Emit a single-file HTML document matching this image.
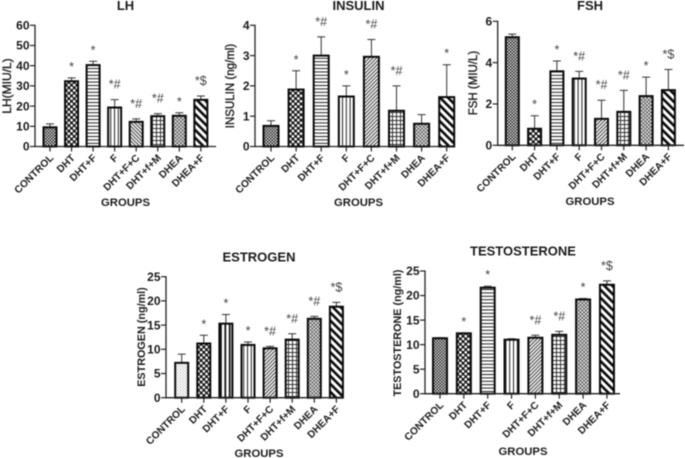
<!DOCTYPE html>
<html lang="en">
<head>
<meta charset="utf-8">
<title>Hormone levels by group</title>
<style>
  html, body { margin: 0; padding: 0; background: #fff; }
  body { width: 685px; height: 458px; overflow: hidden; }
  svg { display: block; filter: blur(0.45px); }
  text { font-family: "Liberation Sans", Arial, sans-serif; fill: #1c1c1c; }
</style>
</head>
<body>
<svg id="figure" xmlns="http://www.w3.org/2000/svg" width="685" height="458" viewBox="0 0 685 458">
  <defs>
    <pattern id="p-dense" patternUnits="userSpaceOnUse" width="3" height="3">
      <rect width="3" height="3" fill="#ddd"/>
      <rect width="1.5" height="1.5" fill="#222"/>
      <rect x="1.5" y="1.5" width="1.5" height="1.5" fill="#222"/>
    </pattern>
    <pattern id="p-light" patternUnits="userSpaceOnUse" width="3" height="3">
      <rect width="3" height="3" fill="#fff"/>
      <rect width="1" height="1" fill="#999"/>
      <rect x="1.5" y="1.5" width="1" height="1" fill="#aaa"/>
    </pattern>
    <pattern id="p-checker" patternUnits="userSpaceOnUse" width="5.4" height="5.4">
      <rect width="5.4" height="5.4" fill="#111"/>
      <circle cx="1.35" cy="1.35" r="1.4" fill="#fff"/>
      <circle cx="4.05" cy="4.05" r="1.4" fill="#fff"/>
    </pattern>
    <pattern id="p-hlines" patternUnits="userSpaceOnUse" width="4" height="3.4">
      <rect width="4" height="3.4" fill="#fff"/>
      <rect width="4" height="1" fill="#222"/>
    </pattern>
    <pattern id="p-vlines" patternUnits="userSpaceOnUse" width="3.8" height="4">
      <rect width="3.8" height="4" fill="#fff"/>
      <rect width="1" height="4" fill="#222"/>
    </pattern>
    <pattern id="p-vthick" patternUnits="userSpaceOnUse" width="4.4" height="4">
      <rect width="4.4" height="4" fill="#fff"/>
      <rect width="1.8" height="4" fill="#111"/>
    </pattern>
    <pattern id="p-diag" patternUnits="userSpaceOnUse" width="2.6" height="2.6" patternTransform="rotate(45)">
      <rect width="2.6" height="2.6" fill="#fff"/>
      <rect width="1.1" height="2.6" fill="#444"/>
    </pattern>
    <pattern id="p-diagback" patternUnits="userSpaceOnUse" width="2.6" height="2.6" patternTransform="rotate(-45)">
      <rect width="2.6" height="2.6" fill="#fff"/>
      <rect width="1.1" height="2.6" fill="#444"/>
    </pattern>
    <pattern id="p-grid" patternUnits="userSpaceOnUse" width="4" height="4">
      <rect width="4" height="4" fill="#fff"/>
      <rect width="1" height="4" fill="#333"/>
      <rect width="4" height="1" fill="#333"/>
    </pattern>
    <pattern id="p-diamonds" patternUnits="userSpaceOnUse" width="3.6" height="3.6">
      <rect width="3.6" height="3.6" fill="#555"/>
      <circle cx="0.9" cy="0.9" r="1" fill="#f4f4f4"/>
      <circle cx="2.7" cy="2.7" r="1" fill="#f4f4f4"/>
    </pattern>
    <pattern id="p-bigdiag" patternUnits="userSpaceOnUse" width="5.6" height="5.6" patternTransform="rotate(-45)">
      <rect width="5.6" height="5.6" fill="#fff"/>
      <rect width="2.6" height="5.6" fill="#0a0a0a"/>
    </pattern>
  </defs>
</svg>
<script>
// ---- Data ----
const categories = ["CONTROL", "DHT", "DHT+F", "F", "DHT+F+C", "DHT+f+M", "DHEA", "DHEA+F"];

const lhValues = [9.5, 32.3, 40.3, 19.3, 12.2, 15, 15.2, 23.1];
const lhErrors = [1.7, 1.7, 1.9, 3.9, 1.5, 1.3, 1.5, 1.9];
const lhNotes = ["", "*", "*", "*#", "*#", "*#", "*", "*$"];
const lhTicks = [0, 10, 20, 30, 40, 50, 60];

const insulinValues = [0.68, 1.88, 3.0, 1.65, 2.96, 1.18, 0.75, 1.63];
const insulinErrors = [0.17, 0.62, 0.62, 0.35, 0.57, 0.82, 0.3, 1.07];
const insulinNotes = ["", "*", "*#", "*", "*#", "*#", "", "*"];
const insulinTicks = [0, 1, 2, 3, 4];

const fshValues = [5.23, 0.8, 3.58, 3.23, 1.28, 1.62, 2.38, 2.67];
const fshErrors = [0.15, 0.63, 0.5, 0.35, 0.9, 1.04, 0.92, 1.0];
const fshNotes = ["", "*", "*", "*#", "*#", "*#", "*", "*$"];
const fshTicks = [0, 2, 4, 6];

const estrogenValues = [7.2, 11.2, 15.3, 10.9, 10.2, 12, 16.3, 18.8];
const estrogenErrors = [1.8, 1.7, 1.9, 0.6, 0.4, 1.2, 0.5, 0.9];
const estrogenNotes = ["", "*", "*", "*", "*#", "*#", "*#", "*$"];
const estrogenTicks = [0, 5, 10, 15, 20, 25];

const testosteroneValues = [11.3, 12.3, 21.6, 11, 11.4, 12, 19.2, 22.2];
const testosteroneErrors = [0.1, 0.1, 0.3, 0.2, 0.5, 0.7, 0.2, 0.8];
const testosteroneNotes = ["", "*", "*", "", "*#", "*#", "*", "*$"];
const testosteroneTicks = [0, 5, 10, 15, 20, 25];

// ---- Drawing ----
const NS = "http://www.w3.org/2000/svg";
const figure = document.getElementById("figure");

function make(parent, tag, attrs, content) {
  const el = document.createElementNS(NS, tag);
  for (const k in attrs) el.setAttribute(k, attrs[k]);
  if (content !== undefined) el.textContent = content;
  parent.appendChild(el);
  return el;
}

function drawChart(c) {
  const group = make(figure, "g", {});
  
  

  const maxTick = c.ticks[c.ticks.length - 1];
  const yScale = v => c.y0 - (v / maxTick) * (c.y0 - c.yTop);
  const xScale = i => c.xFirst + i * c.xStep;

  // bars and error bars
  c.values.forEach((v, i) => {
    const x = xScale(i);
    const top = yScale(v + c.errors[i]);
    const err = make(group, "path", {
      d: "M" + x + " " + yScale(v) + "V" + top + "M" + (x - c.capHalf) + " " + top + "H" + (x + c.capHalf),
      stroke: "#333", "stroke-width": 1, fill: "none"
    });
    
    

    const bar = make(group, "rect", {
      x: x - c.barW / 2, y: yScale(v), width: c.barW, height: Math.max(0, c.y0 - yScale(v)),
      fill: "url(#p-" + c.patterns[i] + ")", stroke: "#0a0a0a", "stroke-width": 2
    });
    
    

    if (c.notes[i]) {
      const note = make(group, "text", {
        x: x, y: top - (c.notes[i].length > 1 ? 11 : 7), "text-anchor": "middle",
        "font-size": 12.5, style: "fill:#444"
      }, c.notes[i]);
      
      
    }

    const tick = make(group, "line", {
      x1: x, x2: x, y1: c.y0, y2: c.y0 + 5, stroke: "#222", "stroke-width": 1.2
    });
    
    

    const ax = x + 4, ay = c.y0 + 12;
    const label = make(group, "text", {
      x: ax, y: ay, "text-anchor": "end", "font-size": 10.2, "font-weight": "bold",
      transform: "rotate(-45 " + ax + " " + ay + ")"
    }, categories[i]);
    
    
  });

  // axes
  const yAxis = make(group, "line", {
    x1: c.xAxis, x2: c.xAxis, y1: c.yTop - 0.6, y2: c.y0 + 0.6, stroke: "#222", "stroke-width": 1.3
  });
  
  

  const xAxis = make(group, "line", {
    x1: c.xAxis, x2: c.xEnd, y1: c.y0, y2: c.y0, stroke: "#222", "stroke-width": 1.3
  });
  
  

  c.ticks.forEach(t => {
    const y = yScale(t);
    const tick = make(group, "line", {
      x1: c.xAxis - 5, x2: c.xAxis, y1: y, y2: y, stroke: "#222", "stroke-width": 1.2
    });
    
    

    const label = make(group, "text", {
      x: c.xAxis - 5.5, y: y + 4.2, "text-anchor": "end", "font-size": 12, "font-weight": "bold"
    }, t);
    
    
  });

  // titles
  const title = make(group, "text", {
    x: c.titleX, y: c.titleY, "text-anchor": "middle", "font-size": 13, "font-weight": "bold"
  }, c.title);
  
  

  const xTitle = make(group, "text", {
    x: c.titleX, y: c.groupsY, "text-anchor": "middle", "font-size": 11.3, "font-weight": "bold"
  }, "GROUPS");
  
  

  const yTitle = make(group, "text", {
    x: c.yTitleX, y: c.yTitleY, "text-anchor": "middle", "font-size": c.yTitleSize,
    "font-weight": c.yTitleWeight, stroke: "#1c1c1c", "stroke-width": c.yTitleWeight === "normal" ? 0.35 : 0,
    transform: "rotate(-90 " + c.yTitleX + " " + c.yTitleY + ")"
  }, c.yTitle);
  
  
}

const fillsLH = ["dense", "checker", "hlines", "vlines", "diagback", "grid", "diamonds", "bigdiag"];
const fillsStd = ["dense", "checker", "hlines", "vlines", "diag", "grid", "diamonds", "bigdiag"];
const fillsEst = ["light", "checker", "vthick", "vlines", "diag", "grid", "diamonds", "bigdiag"];

drawChart({
  key: "lh", title: "LH", yTitle: "LH(MIU/L)", values: lhValues, errors: lhErrors, notes: lhNotes, ticks: lhTicks,
  patterns: fillsLH, xAxis: 35, xEnd: 216, y0: 146.5, yTop: 25.3, xFirst: 50, xStep: 21.55, barW: 13, capHalf: 4,
  titleX: 125.5, titleY: 10, groupsY: 206, yTitleX: 11, yTitleY: 86, yTitleSize: 12, yTitleWeight: "normal"
});
drawChart({
  key: "insulin", title: "INSULIN", yTitle: "INSULIN (ng/ml)", values: insulinValues, errors: insulinErrors, notes: insulinNotes, ticks: insulinTicks,
  patterns: fillsStd, xAxis: 255, xEnd: 455, y0: 146.5, yTop: 25.3, xFirst: 271, xStep: 25.1, barW: 15, capHalf: 4,
  titleX: 358.5, titleY: 10, groupsY: 206, yTitleX: 234, yTitleY: 86, yTitleSize: 11.5, yTitleWeight: "normal"
});
drawChart({
  key: "fsh", title: "FSH", yTitle: "FSH (MIU/L)", values: fshValues, errors: fshErrors, notes: fshNotes, ticks: fshTicks,
  patterns: fillsStd, xAxis: 497.7, xEnd: 684, y0: 145.3, yTop: 21.3, xFirst: 512.3, xStep: 22.3, barW: 13, capHalf: 4,
  titleX: 590, titleY: 10, groupsY: 205, yTitleX: 477, yTitleY: 83, yTitleSize: 11.5, yTitleWeight: "normal"
});
drawChart({
  key: "estrogen", title: "ESTROGEN", yTitle: "ESTROGEN (ng/ml)", values: estrogenValues, errors: estrogenErrors, notes: estrogenNotes, ticks: estrogenTicks,
  patterns: fillsEst, xAxis: 166, xEnd: 344, y0: 397.7, yTop: 276.7, xFirst: 181.7, xStep: 22.1, barW: 13, capHalf: 4,
  titleX: 259, titleY: 261.5, groupsY: 457, yTitleX: 145, yTitleY: 337, yTitleSize: 10.8, yTitleWeight: "bold"
});
drawChart({
  key: "testosterone", title: "TESTOSTERONE", yTitle: "TESTOSTERONE (ng/ml)", values: testosteroneValues, errors: testosteroneErrors, notes: testosteroneNotes, ticks: testosteroneTicks,
  patterns: fillsStd, xAxis: 425, xEnd: 620, y0: 393.7, yTop: 271, xFirst: 440, xStep: 23.85, barW: 14, capHalf: 4,
  titleX: 523, titleY: 255.5, groupsY: 455, yTitleX: 401, yTitleY: 333, yTitleSize: 10.8, yTitleWeight: "bold"
});
</script>
</body>
</html>
